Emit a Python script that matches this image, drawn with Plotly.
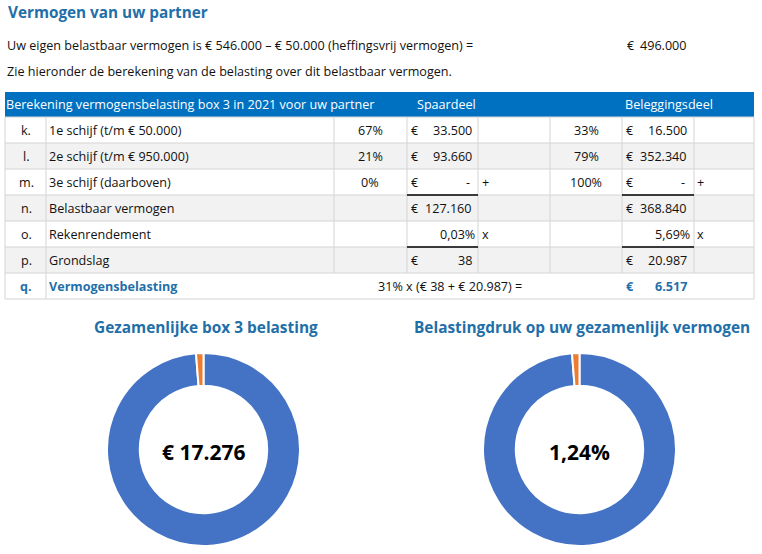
import plotly.graph_objects as go

W, H = 762, 554

# ---- data ----
title = "Vermogen van uw partner"
intro_lines = [
    "Uw eigen belastbaar vermogen is € 546.000 – € 50.000 (heffingsvrij vermogen) =",
    "Zie hieronder de berekening van de belasting over dit belastbaar vermogen.",
]
belastbaar_vermogen = 496000

table_header = ["Berekening vermogensbelasting box 3 in 2021 voor uw partner", "Spaardeel", "Beleggingsdeel"]
row_codes = ["k.", "l.", "m.", "n.", "o.", "p."]
row_labels = ["1e schijf (t/m € 50.000)", "2e schijf (t/m € 950.000)", "3e schijf (daarboven)",
              "Belastbaar vermogen", "Rekenrendement", "Grondslag"]
row_signs = ["", "", "+", "", "x", ""]
spaar_pct = [67, 21, 0, None, None, None]
spaar_bedrag = [33500, 93660, 0, 127160, None, 38]
spaar_rendement = 0.03
beleg_pct = [33, 79, 100, None, None, None]
beleg_bedrag = [16500, 352340, 0, 368840, None, 20987]
beleg_rendement = 5.69
tarief = 31
vermogensbelasting = 6517

donut_titles = ["Gezamenlijke box 3 belasting", "Belastingdruk op uw gezamenlijk vermogen"]
donut_labels = ["Vermogen", "Belasting"]
donut_shares = [98.76, 1.24]
gezamenlijke_belasting = 17276
belastingdruk = 1.24

# ---- styling ----
FONT = "Open Sans"
FS = 12.6
TITLE_BLUE = "#1F6FA9"
HEADER_BLUE = "#0070C0"
GRID = "#D4D4D4"
SHADE = "#F2F2F2"
TXT = "#111111"

col_x = [5, 46, 334, 407, 478, 550, 622, 694, 754]
row_y = [92, 117, 143, 169, 195, 221, 247, 273, 299]


def nl(n):
    return f"{n:,}".replace(",", ".")


def pct(v):
    return f"{v:.2f}".replace(".", ",") + "%"


def fx(x):
    return x / W


def fy(y):
    return 1 - y / H


fig = go.Figure()
shapes = []
annotations = []


def txt(x, y, s, anchor="left", color=TXT, size=FS, bold=False):
    if bold:
        s = "<b>" + s + "</b>"
    annotations.append(dict(x=fx(x), y=fy(y), xref="paper", yref="paper", text=s,
                            xanchor=anchor, yanchor="middle", showarrow=False,
                            font=dict(family=FONT, size=size, color=color)))


def rect(x0, y0, x1, y1, color):
    shapes.append(dict(type="rect", xref="paper", yref="paper", x0=fx(x0), x1=fx(x1),
                       y0=fy(y0), y1=fy(y1), fillcolor=color, line=dict(width=0), layer="below"))


def line(x0, y0, x1, y1, color=GRID, width=1):
    shapes.append(dict(type="line", xref="paper", yref="paper", x0=fx(x0), x1=fx(x1),
                       y0=fy(y0), y1=fy(y1), line=dict(color=color, width=width)))


# heading and intro
txt(6, 12, title, color=TITLE_BLUE, size=15.3, bold=True)
txt(5, 46, intro_lines[0])
txt(5, 72, intro_lines[1])
txt(625, 46, "€")
txt(689, 46, nl(belastbaar_vermogen), anchor="right")

# table background
rect(col_x[0], row_y[0], col_x[-1], row_y[1], HEADER_BLUE)
for i in range(len(row_codes)):
    if i % 2 == 1:
        rect(col_x[0], row_y[i + 1], col_x[-1], row_y[i + 2], SHADE)

# grid
for y in row_y[1:]:
    line(col_x[0], y, col_x[-1], y)
line(col_x[0], row_y[1], col_x[0], row_y[-1])
line(col_x[-1], row_y[1], col_x[-1], row_y[-1])
line(col_x[1], row_y[1], col_x[1], row_y[-1])
for x in col_x[2:-1]:
    line(x, row_y[1], x, row_y[-2])
# sum lines
for yy in (row_y[4], row_y[6]):
    line(col_x[3], yy, col_x[4], yy, color="black", width=1.3)
    line(col_x[6], yy, col_x[7], yy, color="black", width=1.3)

# header text
hy = (row_y[0] + row_y[1]) / 2
txt(4, hy, table_header[0], color="white")
txt(447, hy, table_header[1], anchor="center", color="white")
txt(669, hy, table_header[2], anchor="center", color="white")

for i in range(len(row_codes)):
    cy = (row_y[i + 1] + row_y[i + 2]) / 2
    txt(26, cy, row_codes[i], anchor="center")
    txt(47, cy, row_labels[i])
    if spaar_pct[i] is not None:
        txt(370, cy, f"{spaar_pct[i]}%", anchor="center")
    if beleg_pct[i] is not None:
        txt(586, cy, f"{beleg_pct[i]}%", anchor="center")
    for bedrag, ex, rx in ((spaar_bedrag[i], 409, 474), (beleg_bedrag[i], 624, 689)):
        if bedrag is None:
            continue
        txt(ex, cy, "€")
        if bedrag == 0:
            txt(rx - 2, cy, "-", anchor="right")
        else:
            txt(rx, cy, nl(bedrag), anchor="right")
    if row_signs[i] == "x":
        txt(477, cy, pct(spaar_rendement), anchor="right")
        txt(692, cy, pct(beleg_rendement), anchor="right")
    if row_signs[i]:
        txt(480, cy, row_signs[i])
        txt(695, cy, row_signs[i])

qy = (row_y[-2] + row_y[-1]) / 2
txt(26, qy, "q.", anchor="center", color=TITLE_BLUE, bold=True)
txt(47, qy, "Vermogensbelasting", color=TITLE_BLUE, bold=True)
txt(376, qy, f"{tarief}% x (€ {nl(spaar_bedrag[5])} + € {nl(beleg_bedrag[5])}) =")
txt(624, qy, "€", color=TITLE_BLUE, bold=True)
txt(689, qy, nl(vermogensbelasting), anchor="right", color=TITLE_BLUE, bold=True)

# donuts
donut_x = [(107, 300), (483, 676)]
centers = ["€ " + nl(gezamenlijke_belasting), pct(belastingdruk)]
for k in range(2):
    x0, x1 = donut_x[k]
    fig.add_trace(go.Pie(
        labels=donut_labels, values=donut_shares, hole=0.66, sort=False,
        direction="clockwise", rotation=0, textinfo="none",
        marker=dict(colors=["#4472C4", "#ED7D31"], line=dict(color="white", width=2)),
        domain=dict(x=[fx(x0), fx(x1)], y=[fy(546), fy(353)]),
        showlegend=False))
    cx = (x0 + x1) / 2
    txt(cx + 2, 327, donut_titles[k], anchor="center", color=TITLE_BLUE, size=15.4, bold=True)
    txt(cx, 452, centers[k], anchor="center", color="black", size=21, bold=True)

fig.update_layout(
    width=W, height=H,
    margin=dict(l=0, r=0, t=0, b=0),
    paper_bgcolor="white", plot_bgcolor="white",
    shapes=shapes, annotations=annotations,
    showlegend=False,
)

fig.write_html("out.html", config={"displayModeBar": False},
               post_script="document.body.style.margin='0';")
